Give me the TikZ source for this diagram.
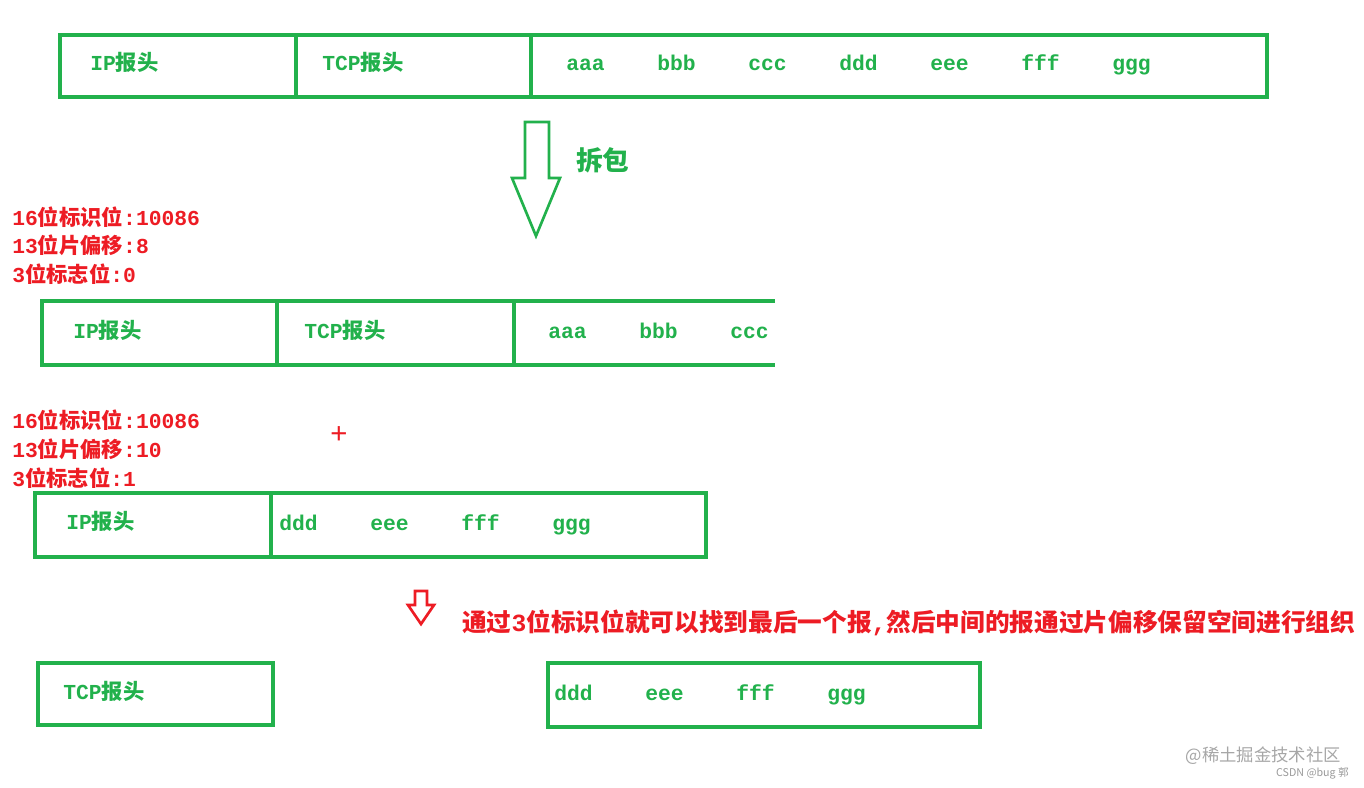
\documentclass[tikz,border=0pt]{standalone}
\usepackage{fontspec}
\setmainfont{Liberation Mono}
\newfontfamily\cjk{Noto Sans CJK SC}
\definecolor{pg}{RGB}{34,177,76}
\definecolor{pr}{RGB}{237,28,36}
\begin{document}
\begin{tikzpicture}[x=0.75pt,y=-0.75pt,
  box/.style={draw=pg,line width=3pt},
  gt/.style={text=pg,font=\fontsize{16}{18}\selectfont\bfseries,anchor=base west,inner sep=0},
  rt/.style={text=pr,font=\fontsize{16}{18}\selectfont\bfseries,anchor=base west,inner sep=0}]
\useasboundingbox (0,0) rectangle (1364,788);
% row 1
\draw[box] (60,35) rectangle (1267,97);
\draw[box] (296,35) -- (296,97) (531,35) -- (531,97);
\node[gt] (a1) at (90,71) {IP{\cjk 报头}};
\node[gt] (a2) at (322,71) {TCP{\cjk 报头}};
\foreach \t/\x in {aaa/566,bbb/657,ccc/748,ddd/839,eee/930,fff/1021,ggg/1112}
  \node[gt] (r1\t) at (\x,71) {\t};
% arrow
\draw[pg,line width=2pt] (525,122) -- (549,122) -- (549,178) -- (560,178) -- (536,236) -- (512,178) -- (525,178) -- cycle;
\node[gt,font=\fontsize{20}{22}\selectfont\bfseries] (cb) at (576,171) {\cjk 拆包};
% red text 1
\node[rt] (t1) at (12,225) {16{\cjk 位标识位}:10086};
\node[rt] (t2) at (12,253) {13{\cjk 位片偏移}:8};
\node[rt] (t3) at (12,282) {3{\cjk 位标志位}:0};
% row 2
\draw[box] (775,301) -- (42,301) -- (42,365) -- (775,365);
\draw[box] (277,301) -- (277,365) (514,301) -- (514,365);
\node[gt] (b1) at (73,338) {IP{\cjk 报头}};
\node[gt] (b2) at (304,338) {TCP{\cjk 报头}};
\foreach \t/\x in {aaa/548,bbb/639,ccc/730}
  \node[gt] (r2\t) at (\x,338) {\t};
% red text 2
\node[rt] (u1) at (12,428) {16{\cjk 位标识位}:10086};
\node[rt] (u2) at (12,457) {13{\cjk 位片偏移}:10};
\node[rt] (u3) at (12,486) {3{\cjk 位标志位}:1};
\node[text=pr,font=\fontsize{22}{24}\selectfont] (plus) at (339,435) {+};
% row 3
\draw[box] (35,493) rectangle (706,557);
\draw[box] (271,493) -- (271,557);
\node[gt] (c1) at (66,529) {IP{\cjk 报头}};
\foreach \t/\x in {ddd/279,eee/370,fff/461,ggg/552}
  \node[gt] (r3\t) at (\x,530) {\t};
% small red arrow
\draw[pr,line width=2pt] (415,591) -- (427,591) -- (427,605) -- (434,605) -- (421,624) -- (408,605) -- (415,605) -- cycle;
\node[rt,font=\fontsize{18.5}{20}\selectfont\bfseries] (note) at (462,631) {{\cjk 通过}3{\cjk 位标识位就可以找到最后一个报},{\cjk 然后中间的报通过片偏移保留空间进行组织}};
% row 4
\draw[box] (38,663) rectangle (273,725);
\node[gt] (d1) at (63,699) {TCP{\cjk 报头}};
\draw[box] (548,663) rectangle (980,727);
\foreach \t/\x in {ddd/554,eee/645,fff/736,ggg/827}
  \node[gt] (r4\t) at (\x,700) {\t};
% watermark
\node[text=gray!70,font=\cjk\fontsize{13}{14}\selectfont,anchor=east,inner sep=0] (w1) at (1341,756) {@稀土掘金技术社区};
\node[text=gray!80,font=\cjk\fontsize{8}{9}\selectfont,anchor=east,inner sep=0] (w2) at (1349,773) {CSDN @bug 郭};
\end{tikzpicture}
\end{document}
